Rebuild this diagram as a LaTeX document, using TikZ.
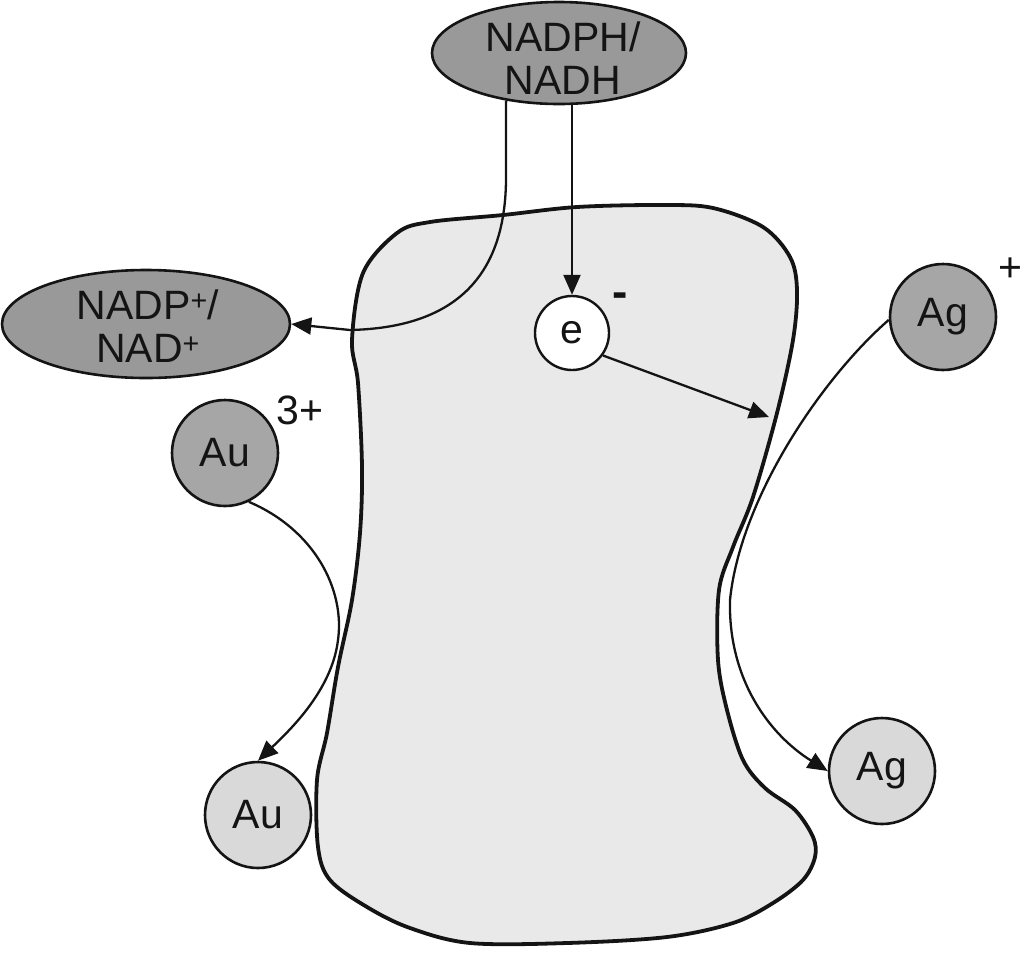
\documentclass[tikz,border=0pt]{standalone}
\usepackage{fontspec}
\setmainfont{Liberation Sans}
\usetikzlibrary{arrows.meta,shapes.geometric}
\definecolor{darkfill}{RGB}{153,153,153}
\definecolor{ionfill}{RGB}{166,166,166}
\definecolor{atomfill}{RGB}{217,217,217}
\definecolor{blobfill}{RGB}{233,233,233}
\definecolor{ink}{RGB}{20,20,20}
\begin{document}
\begin{tikzpicture}[x=1pt,y=-1pt,
  bigtxt/.style={font=\fontsize{41}{43}\selectfont, text=ink, inner sep=0pt, align=center},
  darkell/.style={ellipse, draw=ink, fill=darkfill, line width=2.6pt, inner sep=0pt},
  ion/.style={circle, draw=ink, line width=2.6pt, inner sep=0pt, minimum size=106pt, bigtxt},
  arr/.style={draw=ink, line width=2.3pt, -{Triangle[length=20pt,width=17pt]}}]
\useasboundingbox (0,0) rectangle (1024,954);
% cell body
\draw[draw=ink, fill=blobfill, line width=3.8pt] plot[smooth cycle, tension=0.55] coordinates {
  (352,340) (363,273) (397,233) (430,222) (503,215) (577,207) (663,205) (713,208)
  (763,227) (790,257) (797,290) (793,340) (777,413) (753,497) (733,547) (719,590)
  (718,660) (727,710) (743,760) (765,788) (795,810) (813,837) (815,857) (803,880)
  (773,903) (733,923) (667,937) (567,943) (470,943) (410,928) (367,907) (330,880)
  (318,847) (317,780) (327,733) (338,667) (352,600) (360,533) (362,467) (358,383)};
% nodes
\node[darkell, minimum width=254pt, minimum height=102pt] (nadph) at (559,53) {};
\node[bigtxt] (nadphtxt) at (563,58) {NADPH/\\NADH};
\node[darkell, minimum width=288pt, minimum height=108pt] (nadp) at (146,324) {};
\node[bigtxt] (nadptxt) at (148,326) {NADP\textsuperscript{+}/\\NAD\textsuperscript{+}};
\node[circle, draw=ink, fill=white, line width=2.4pt, minimum size=74pt, inner sep=0pt, bigtxt] (e) at (572,333) {e};
\node[ion, fill=ionfill] (agp) at (943,317) {Ag};
\node[ion, fill=ionfill] (au3) at (225,453) {Au};
\node[ion, fill=atomfill] (au) at (258,815) {Au};
\node[ion, fill=atomfill] (ag) at (882,771) {Ag};
% charges
\node[bigtxt, font=\fontsize{46}{46}\selectfont\bfseries] (elab) at (620,300) {-};
\node[bigtxt] (agplab) at (1010,270) {+};
\node[bigtxt] (au3lab) at (300,410) {3+};
% connectors
\coordinate (etip) at (769,417);
\draw[arr] (nadph.222) -- (506,180) .. controls (505,290) and (440,328) .. (350,330) -- (nadp.east);
\draw[arr] (e.north |- nadph.south) -- (e.north);
\draw[arr] (e.-36) -- (etip);
\draw[arr] (au3.-64) .. controls (315,530) and (345,590) .. (338,640) .. controls (332,690) and (290,730) .. (au.north);
\draw[arr] (agp.183) .. controls (820,380) and (740,500) .. (730,600) .. controls (728,680) and (770,735) .. (ag.west);
\end{tikzpicture}
\end{document}
